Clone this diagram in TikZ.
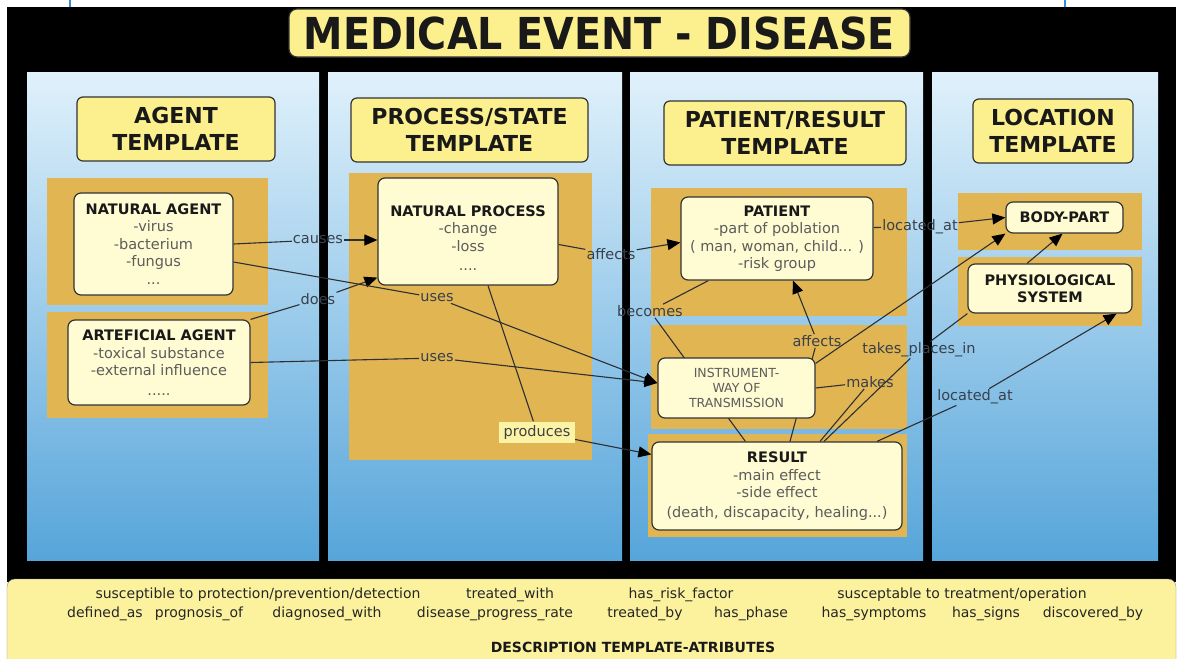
\documentclass[tikz,border=0pt]{standalone}
\usepackage{fontspec}
\setmainfont{DejaVu Sans}
\newfontfamily\titlefont[FakeStretch=0.9]{DejaVu Sans}
\usepackage{xcolor}
\usetikzlibrary{arrows.meta}
\definecolor{panelTop}{HTML}{E0F1FB}
\definecolor{panelBot}{HTML}{56A5DA}
\definecolor{gold}{HTML}{E1B551}
\definecolor{hdrYellow}{HTML}{FCF08E}
\definecolor{boxFill}{HTML}{FFFBD3}
\definecolor{footFill}{HTML}{FCF29E}
\definecolor{prodFill}{HTML}{FBF4A6}
\definecolor{edgeGray}{HTML}{2C3035}
\definecolor{lineText}{HTML}{5C5C5C}
\definecolor{lblText}{HTML}{38404B}
\definecolor{topBlue}{HTML}{3A8BD2}
\newcommand{\ttl}[1]{\textcolor{black!90}{\textbf{#1}}}
\pgfdeclarelayer{bg}
\pgfdeclarelayer{edges}
\pgfsetlayers{bg,edges,main}
\tikzset{
  hdr/.style={draw=black!80, line width=1.2pt, fill=hdrYellow, rounded corners=6pt, inner sep=0pt,
    align=center, text=black!90, font=\fontsize{22}{27}\selectfont\bfseries},
  concept/.style={draw=black!80, line width=1.2pt, fill=boxFill, rounded corners=7pt, inner sep=0pt,
    align=center, text=lineText, font=\fontsize{14.5}{17.5}\selectfont},
  lbl/.style={inner sep=1pt, text=lblText, font=\fontsize{14.5}{17}\selectfont},
  conn/.style={draw=edgeGray, line width=1.1pt},
  arr/.style={conn, -{Triangle[length=13pt,width=11pt,color=black]}},
  attr/.style={anchor=base, inner sep=0pt, text=black!85, font=\fontsize{14}{16}\selectfont},
}

\begin{document}
\begin{tikzpicture}[x=1pt,y=-1pt]
\useasboundingbox (0,0) rectangle (1179,659);

\begin{pgfonlayer}{bg}
\fill[white] (0,0) rectangle (1179,659);
\draw[topBlue, line width=2pt] (70,0) -- (70,7);
\draw[topBlue, line width=2pt] (1065,0) -- (1065,7);
\fill[black] (7,7) rectangle (1176,582);
\shade[top color=panelTop, bottom color=panelBot] (27,72) rectangle (319,560);
\shade[top color=panelTop, bottom color=panelBot] (328,72) rectangle (622,560);
\shade[top color=panelTop, bottom color=panelBot] (630,72) rectangle (923,560);
\shade[top color=panelTop, bottom color=panelBot] (932,72) rectangle (1158,560);
\fill[gold] (47,178) rectangle (268,305);
\fill[gold] (47,312) rectangle (268,418);
\fill[gold] (349,173) rectangle (592,460);
\fill[gold] (651,188) rectangle (907,316);
\fill[gold] (651,325) rectangle (907,429);
\fill[gold] (648,434) rectangle (907,537);
\fill[gold] (958,193) rectangle (1142,250);
\fill[gold] (958,257) rectangle (1142,326);
\filldraw[fill=footFill, draw=black!45, rounded corners=8pt] (7,579) rectangle (1176,690);
\end{pgfonlayer}

\node[hdr, minimum width=621pt, minimum height=48pt, rounded corners=8pt,
  font=\titlefont\bfseries\fontsize{44}{48}\selectfont] (title) at (599.5,33) {MEDICAL EVENT - DISEASE};

\node[hdr, minimum width=198pt, minimum height=64pt] (hAgent) at (176,129) {AGENT\\TEMPLATE};
\node[hdr, minimum width=237pt, minimum height=64pt] (hProc) at (469.5,130) {PROCESS/STATE\\TEMPLATE};
\node[hdr, minimum width=242pt, minimum height=64pt] (hPat) at (785,133) {PATIENT/RESULT\\TEMPLATE};
\node[hdr, minimum width=160pt, minimum height=64pt] (hLoc) at (1053,131) {LOCATION\\TEMPLATE};

\node[concept, minimum width=159pt, minimum height=102pt] (na) at (153.5,244)
  {\ttl{NATURAL AGENT}\\-virus\\-bacterium\\-fungus\\...};
\node[concept, minimum width=182pt, minimum height=85pt] (aa) at (159,362.5)
  {\ttl{ARTEFICIAL AGENT}\\-toxical substance\\-external influence\\[2pt].....};
\node[concept, minimum width=180pt, minimum height=107pt] (np) at (468,231.5)
  {\rule{0pt}{23.5pt}\ttl{NATURAL PROCESS}\\-change\\-loss\\[2pt]....};
\node[concept, minimum width=192pt, minimum height=83pt] (pat) at (777,238.5)
  {\ttl{PATIENT}\\-part of poblation\\( man, woman, child... )\\-risk group};
\node[concept, minimum width=157pt, minimum height=60pt, font=\fontsize{12.5}{15}\selectfont] (inst) at (736.5,388)
  {INSTRUMENT-\\WAY OF\\TRANSMISSION};
\node[concept, minimum width=250pt, minimum height=88pt] (res) at (777,486)
  {\ttl{RESULT}\\-main effect\\-side effect\\[2pt](death, discapacity, healing...)};
\node[concept, minimum width=117pt, minimum height=31pt] (body) at (1064.5,217.5) {\ttl{BODY-PART}};
\node[concept, minimum width=164pt, minimum height=49pt, font=\fontsize{14.5}{17}\selectfont] (phys) at (1050,288.5)
  {\ttl{PHYSIOLOGICAL}\\\ttl{SYSTEM}};

\node[lbl] (lCauses) at (318,240) {causes};
\node[lbl] (lDoes) at (318,299) {does};
\node[lbl] (lUsesA) at (437,298) {uses};
\node[lbl] (lUsesB) at (437,358) {uses};
\node[lbl] (lAffectsA) at (611,254) {affects};
\node[lbl, fill=prodFill, inner sep=0pt, minimum width=76pt, minimum height=21pt, text=black!75] (lProduces) at (537,432) {produces};
\node[lbl] (lBecomes) at (650,311) {becomes};
\node[lbl] (lAffectsB) at (817,341) {affects};
\node[lbl] (lMakes) at (870,382) {makes};
\node[lbl] (lTakes) at (919,350) {takes\_places\_in};
\node[lbl] (lLocA) at (920,227) {located\_at};
\node[lbl] (lLocB) at (975,397) {located\_at};

\begin{pgfonlayer}{edges}
\draw[conn] (na.east) -- (lCauses);
\draw[arr] (lCauses) -- (lCauses -| np.west);
\draw[conn] (aa.north east) -- (lDoes);
\draw[arr] (lDoes) -- ([yshift=8pt]np.south west);
\draw[conn] ([yshift=-18pt]na.east) -- (lUsesA);
\draw[arr] (lUsesA) -- ([yshift=5pt]inst.west);
\draw[conn] (aa.east) -- (lUsesB);
\draw[arr] (lUsesB) -- ([yshift=5pt]inst.west);
\draw[conn] ([yshift=-13pt]np.east) -- (lAffectsA);
\draw[arr] (lAffectsA) -- ([yshift=-4pt]pat.west);
\draw[conn] ([xshift=20pt]np.south) -- (lProduces);
\draw[arr] (lProduces) -- ([yshift=-13pt]res.north west);
\draw[conn] ([xshift=28pt]pat.south west) -- (lBecomes) -- ([xshift=94pt]res.north west);
\draw[conn] ([xshift=13pt]res.north) -- (lAffectsB);
\draw[arr] (lAffectsB) -- ([xshift=16pt]pat.south);
\draw[conn] (inst.east) -- (lMakes) -- ([xshift=43pt]res.north);
\draw[conn] ([xshift=47pt]res.north) -- (lTakes) -- (phys.south west);
\draw[arr] ([yshift=-6pt]inst.north east) -- (body.south west);
\draw[conn] ([yshift=11pt]pat.east) -- (lLocA);
\draw[arr] (lLocA) -- (body.west);
\draw[arr] ([xshift=-23pt]phys.north) -- ([xshift=-2pt]body.south);
\draw[conn] ([xshift=100pt]res.north) -- (lLocB);
\draw[arr] (lLocB) -- ([xshift=-16pt]phys.south east);
\end{pgfonlayer}

\node[attr] (fSusc) at (258,598) {susceptible to protection/prevention/detection};
\node[attr] (fTreatW) at (510,598) {treated\_with};
\node[attr] (fRisk) at (681,598) {has\_risk\_factor};
\node[attr] (fSuscT) at (962,598) {susceptable to treatment/operation};
\node[attr] (fDef) at (105,617) {defined\_as};
\node[attr] (fProg) at (199,617) {prognosis\_of};
\node[attr] (fDiag) at (327,617) {diagnosed\_with};
\node[attr] (fRate) at (495,617) {disease\_progress\_rate};
\node[attr] (fTreatB) at (645,617) {treated\_by};
\node[attr] (fPhase) at (751,617) {has\_phase};
\node[attr] (fSympt) at (874,617) {has\_symptoms};
\node[attr] (fSigns) at (986,617) {has\_signs};
\node[attr] (fDisc) at (1093,617) {discovered\_by};
\node[attr, text=black!90, font=\fontsize{14}{16}\selectfont\bfseries] (fTitle) at (633,652) {DESCRIPTION TEMPLATE-ATRIBUTES};
\end{tikzpicture}
\end{document}
